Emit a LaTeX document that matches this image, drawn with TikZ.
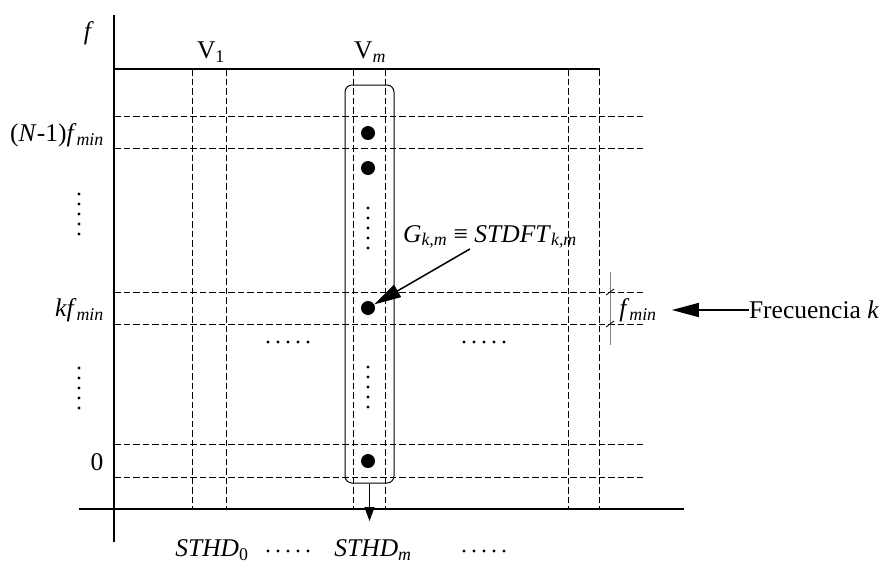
\documentclass[tikz,border=0pt]{standalone}
\usepackage{fontspec}
\setmainfont{Liberation Serif}
\usetikzlibrary{arrows.meta,positioning}

\begin{document}
\begin{tikzpicture}[
  x=1pt, y=-1pt,
  font=\fontsize{25.5}{30}\selectfont,
  axis/.style={line width=1.6pt},
  grid/.style={dash pattern=on 6.5pt off 3pt, line width=0.9pt},
  dot/.style={circle, fill, inner sep=0pt, minimum size=14pt},
  tiny/.style={circle, fill, inner sep=0pt, minimum size=3.2pt},
  lbl/.style={inner sep=0pt},
  arr/.style={-{Triangle[length=27pt, width=14pt]}, line width=1.5pt},
  arrv/.style={-{Triangle[length=14pt, width=10pt]}, line width=1.2pt}
]
  \useasboundingbox (0,0) rectangle (890,563);

  % axes
  \draw[axis] (114,15) -- (114,542);
  \draw[axis] (79,509) -- (684,509);
  \draw[axis] (114,69) -- (600,69);

  % grid of bands
  \foreach \x in {192,226,353,385,568,599}
    \draw[grid] (\x,69) -- (\x,509);
  \foreach \y in {116,148,292,324,444,477}
    \draw[grid] (114,\y) -- (643,\y);

  % column m
  \node[draw, rounded corners=7pt, line width=1pt, minimum width=49pt, minimum height=398pt] (col) at (369.5,284) {};
  \node[dot] (dN) at (368,133) {};
  \node[dot] (dN2) at (368,168) {};
  \node[dot] (dk) at (368,308) {};
  \node[dot] (d0) at (368,461) {};
  \coordinate (out) at (369.5,521);
  \draw[arrv] (col.south) -- (out);

  % dots
  \foreach \y in {208,218,228,238,248,367,377,387,397,407}
    \node[tiny] at (368,\y) {};
  \foreach \y in {194,204,214,224,234,368,378,388,398,408}
    \node[tiny] at (79,\y) {};
  \foreach \x in {268,278,288,298,308,464,474,484,494,504} {
    \node[tiny] at (\x,342) {};
    \node[tiny] at (\x,551) {};
  }

  % labels
  \node[lbl] (f) at (89,33) {\textit{f}};
  \node[lbl] (v1) at (211,52) {V\textsubscript{1}};
  \node[lbl] (vm) at (370,52) {V\textsubscript{\textit{m}}};
  \node[lbl, anchor=east] (fN) at (104,135) {(\textit{N}-1)\textit{f}\textsubscript{\textit{min}}};
  \node[lbl, anchor=east] (fk) at (104,310) {\textit{kf}\textsubscript{\textit{min}}};
  \node[lbl] (zero) at (97,462) {0};
  \node[lbl] (s0) at (212,550) {\textit{STHD}\textsubscript{0}};
  \node[lbl] (sm) at (373,550) {\textit{STHD}\textsubscript{\textit{m}}};
  \node[lbl] (g) at (490,237) {\textit{G}\textsubscript{\textit{k,m}} ≡ \textit{STDFT}\textsubscript{\textit{k,m}}};
  \node[lbl] (fmin) at (638,310) {\textit{f}\textsubscript{\textit{min}}};
  \node[lbl, right=92pt of fmin] (freq) {Frecuencia \textit{k}};

  % f_min spacing mark
  \draw[gray, line width=1pt] (610,272) -- (610,345);
  \draw[line width=0.8pt] (606,295) -- (614,289);
  \draw[line width=0.8pt] (606,327) -- (614,321);

  \draw[arr] ([xshift=-20pt]g.south) -- (dk);
  \draw[arr] (freq.west) -- ([xshift=15pt]fmin.east);
\end{tikzpicture}
\end{document}
